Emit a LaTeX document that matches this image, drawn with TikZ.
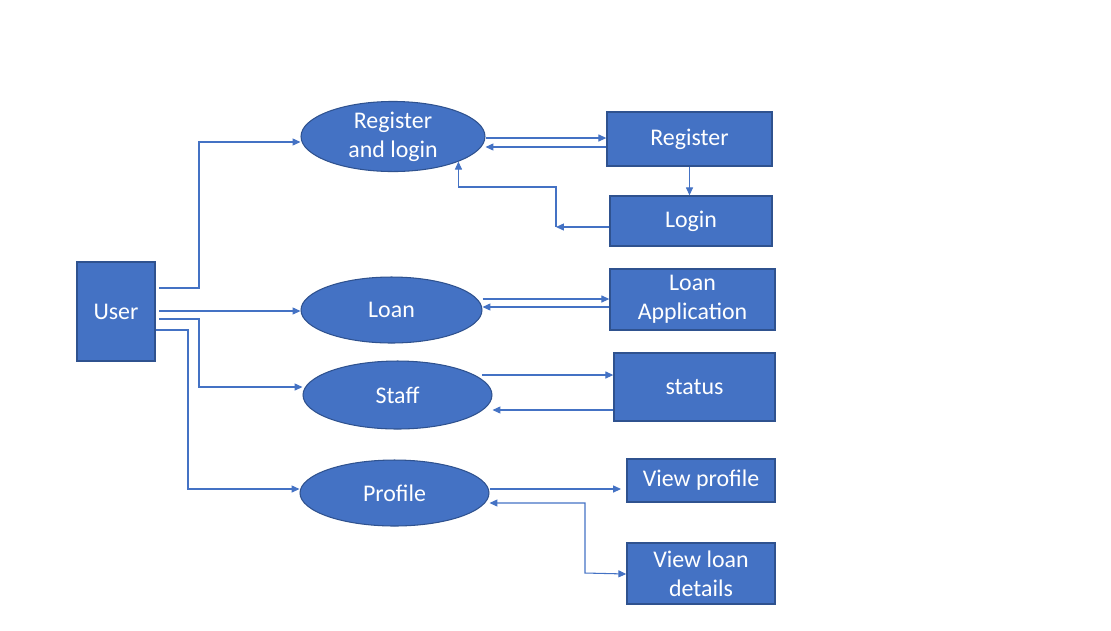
\documentclass[tikz,border=0pt]{standalone}
\usepackage{fontspec}
\setmainfont{Carlito}
\usetikzlibrary{shapes.geometric,arrows.meta,calc}
\definecolor{boxblue}{HTML}{4472C4}
\definecolor{boxedge}{HTML}{2F528F}
\definecolor{linkblue}{HTML}{4472C4}

\begin{document}
\begin{tikzpicture}[x=0.02cm, y=-0.02cm, >={Triangle[length=4.5pt,width=4pt]},
  font=\fontsize{13.6}{16.5}\selectfont,
  proc/.style={draw=boxedge, fill=boxblue, ellipse, text=white, align=center, inner sep=0pt, line width=0.6pt},
  box/.style={draw=boxedge, fill=boxblue, rectangle, text=white, align=center, inner sep=0pt, line width=0.8pt},
  flow/.style={->, draw=linkblue, line width=0.6pt}]
  \useasboundingbox (0,0) rectangle (1111,630);
  % actor and processes
  \node[box, minimum width=1.56cm, minimum height=1.98cm] (user) at (116,311.5) {User};
  \node[proc, minimum width=3.68cm, minimum height=1.34cm] (reg) at (393,136.5) {Register\\and login};
  \node[proc, minimum width=3.62cm, minimum height=1.32cm] (loan) at (391.5,310) {Loan};
  \node[proc, minimum width=3.78cm, minimum height=1.36cm] (staff) at (397.5,395) {Staff};
  \node[proc, minimum width=3.78cm, minimum height=1.32cm] (profile) at (394.5,493) {Profile};
  % right column
  \node[box, minimum width=3.30cm, minimum height=1.08cm] (register) at (689.5,139) {Register};
  \node[box, minimum width=3.24cm, minimum height=1.00cm] (login) at (691,221) {Login};
  \node[box, minimum width=3.30cm, minimum height=1.22cm] (loanapp) at (692.5,299.5) {Loan\\Application};
  \node[box, minimum width=3.22cm, minimum height=1.36cm] (status) at (694.5,387) {status};
  \node[box, minimum width=2.96cm, minimum height=0.86cm] (viewprof) at (701,480.5) {View profile};
  \node[box, minimum width=2.96cm, minimum height=1.22cm] (viewloan) at (701,573.5) {View loan\\details};
  % user to processes
  \draw[flow] ([xshift=2pt]user.east |- 0,288) -| (199,142) -- (reg.west |- 0,142);
  \draw[flow] ([xshift=2pt]user.east |- 0,311) -- (loan.west |- 0,311);
  \draw[flow] ([xshift=2pt]user.east |- 0,319) -| (199,387) -- (staff.west |- 0,387);
  \draw[flow] (user.east |- 0,330) -| (188,489) -- (profile.west |- 0,489);
  % register and login
  \draw[flow] (reg.east |- 0,138) -- (register.west |- 0,138);
  \draw[flow] (register.west |- 0,147) -- (reg.east |- 0,147);
  \draw[flow] (register.south) -- (register.south |- login.north);
  \coordinate (turn) at (556,227);
  \draw[flow] (login.west |- turn) -- (turn);
  \draw[flow] (turn) -- (turn |- 0,187) -| (reg.-21);
  % loan and staff
  \draw[flow] (loan.east |- 0,299) -- (loanapp.west |- 0,299);
  \draw[flow] (loanapp.west |- 0,307) -- (loan.east |- 0,307);
  \draw[flow] ([xshift=-6pt]staff.east |- 0,375) -- (status.west |- 0,375);
  \draw[flow] (status.west |- 0,410) -- (staff.east |- 0,410);
  % profile
  \draw[flow] (profile.east |- 0,489) -- ([xshift=-3pt]viewprof.west |- 0,489);
  \draw[flow, <->] (profile.east |- 0,503) -| (585,573) -- (viewloan.west |- 0,574);
\end{tikzpicture}
\end{document}
